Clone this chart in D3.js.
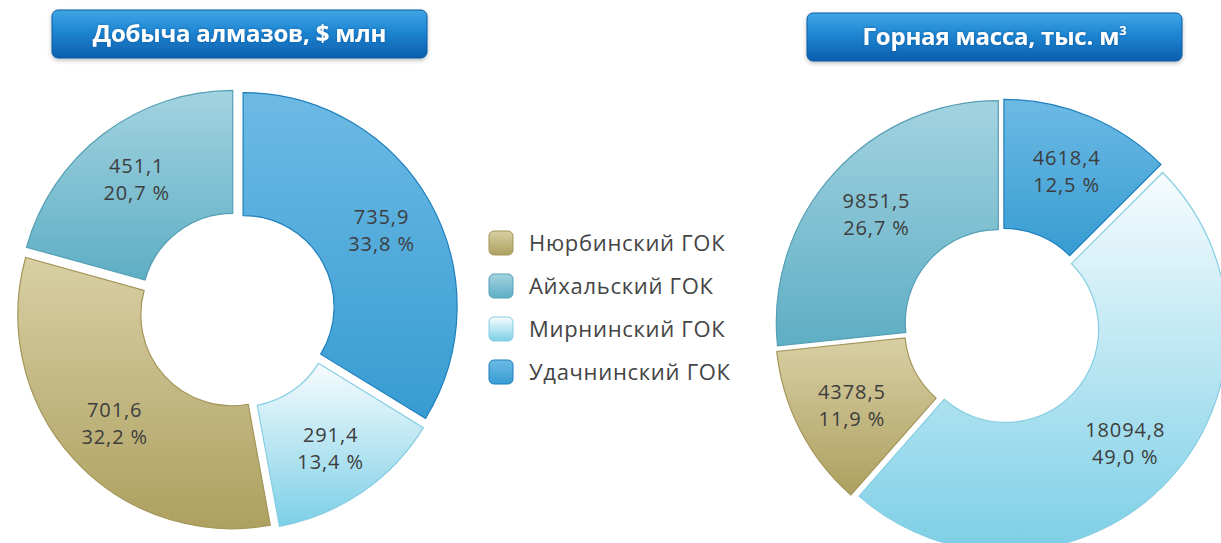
<!DOCTYPE html>
<html>
<head>
<meta charset="utf-8">
<script src="https://cdn.jsdelivr.net/npm/d3@7"></script>
<style>
  body { margin: 0; background: #fff; }
  svg { display: block; }
</style>
</head>
<body>
<div id="chart"></div>
<script>
// data
const mines = ['Нюрбинский ГОК', 'Айхальский ГОК', 'Мирнинский ГОК', 'Удачнинский ГОК'];
const diamondValues = [701.6, 451.1, 291.4, 735.9];
const diamondShares = [32.2, 20.7, 13.4, 33.8];
const rockValues = [4378.5, 9851.5, 18094.8, 4618.4];
const rockShares = [11.9, 26.7, 49.0, 12.5];
// clockwise order from 12 o'clock
const pieOrder = [3, 2, 0, 1];
const titles = ['Добыча алмазов, $ млн', 'Горная масса, тыс. м'];

const width = 1221;
const height = 543;

const palette = [
    {top: '#d8cfa4', bottom: '#ada060', stroke: '#a39558'},
    {top: '#a3d3e0', bottom: '#5eaec4', stroke: '#559fb5'},
    {top: '#f7fcfe', bottom: '#7ccfe6', stroke: '#86cde3'},
    {top: '#6dbae4', bottom: '#379cd2', stroke: '#1e7fbd'}
];

const ru = d3.formatLocale({decimal: ',', thousands: '', grouping: [3], currency: ['', '']});
const fmt1 = ru.format('.1f');

let svg = d3.select('#chart').append('svg')
            .attr('width', width)
            .attr('height', height);

let defs = svg.append('defs');

palette.forEach(function(c, i){
    let g = defs.append('linearGradient')
                .attr('id', 'grad' + i)
                .attr('x1', 0).attr('y1', 0)
                .attr('x2', 0).attr('y2', 1);
    g.append('stop').attr('offset', '0%').attr('stop-color', c.top);
    g.append('stop').attr('offset', '100%').attr('stop-color', c.bottom);
});

let tg = defs.append('linearGradient')
             .attr('id', 'titleGrad')
             .attr('x1', 0).attr('y1', 0)
             .attr('x2', 0).attr('y2', 1);
tg.append('stop').attr('offset', '0%').attr('stop-color', '#3fa6e4');
tg.append('stop').attr('offset', '45%').attr('stop-color', '#1f86d2');
tg.append('stop').attr('offset', '100%').attr('stop-color', '#0b5ead');

let shadow = defs.append('filter').attr('id', 'boxShadow')
                 .attr('x', '-5%').attr('y', '-20%')
                 .attr('width', '110%').attr('height', '150%');
shadow.append('feDropShadow')
      .attr('dx', 0).attr('dy', 2)
      .attr('stdDeviation', 2)
      .attr('flood-color', '#000')
      .attr('flood-opacity', 0.25);

let glow = defs.append('filter').attr('id', 'textGlow')
               .attr('x', '-10%').attr('y', '-30%')
               .attr('width', '120%').attr('height', '160%');
glow.append('feGaussianBlur').attr('in', 'SourceAlpha').attr('stdDeviation', 1.6).attr('result', 'b');
glow.append('feFlood').attr('flood-color', '#0a4f93').attr('flood-opacity', 0.6);
glow.append('feComposite').attr('in2', 'b').attr('operator', 'in').attr('result', 's');
let gm = glow.append('feMerge');
gm.append('feMergeNode').attr('in', 's');
gm.append('feMergeNode').attr('in', 'SourceGraphic');

function drawTitle(x, y, w, h, text, sup){
    let g = svg.append('g').attr('transform', 'translate(' + x + ',' + y + ')');
    g.append('rect')
     .attr('width', w)
     .attr('height', h)
     .attr('rx', 6)
     .attr('fill', 'url(#titleGrad)')
     .attr('stroke', '#0d5aa3')
     .attr('stroke-width', 1)
     .attr('filter', 'url(#boxShadow)');
    let t = g.append('text')
             .attr('x', w / 2)
             .attr('y', h / 2 + 8)
             .attr('text-anchor', 'middle')
             .attr('fill', '#fff')
             .attr('font-family', 'Open Sans, sans-serif')
             .attr('font-weight', 700)
             .attr('font-size', 24)
             .attr('letter-spacing', -0.2)
             .attr('filter', 'url(#textGlow)')
             .text(text);
    if (sup) {
        t.append('tspan')
         .attr('dy', -10)
         .attr('font-size', 13)
         .text(sup);
    }
}

function drawDonut(cx, cy, inner, outer, explode, values, shares){
    let rows = pieOrder.map(function(i){
        return {mine: i, value: values[i], share: shares[i]};
    });

    let pie = d3.pie()
                .sort(null)
                .value(function(d){return d.value;});

    let arc = d3.arc()
                .innerRadius(inner)
                .outerRadius(outer);

    let labelArc = d3.arc()
                     .innerRadius(inner + (outer - inner) * 0.55)
                     .outerRadius(inner + (outer - inner) * 0.55);

    let g = svg.append('g').attr('transform', 'translate(' + cx + ',' + cy + ')');

    let slices = g.selectAll('g.slice')
                  .data(pie(rows))
                  .enter()
                  .append('g')
                  .attr('class', 'slice')
                  .attr('transform', function(d){
                      let a = (d.startAngle + d.endAngle) / 2;
                      return 'translate(' + (Math.sin(a) * explode) + ',' + (-Math.cos(a) * explode) + ')';
                  });

    slices.append('path')
          .attr('d', arc)
          .attr('fill', function(d){return 'url(#grad' + d.data.mine + ')';})
          .attr('stroke', function(d){return palette[d.data.mine].stroke;})
          .attr('stroke-width', 1.2);

    let labels = slices.append('text')
                       .attr('transform', function(d){
                           let p = labelArc.centroid(d);
                           return 'translate(' + p[0] + ',' + p[1] + ')';
                       })
                       .attr('text-anchor', 'middle')
                       .attr('fill', '#3d3d3d')
                       .attr('font-family', 'Open Sans, sans-serif')
                       .attr('font-size', 20)
                       .attr('letter-spacing', 0.9);

    labels.append('tspan')
          .attr('x', 0)
          .attr('dy', -5)
          .text(function(d){return fmt1(d.data.value);});
    labels.append('tspan')
          .attr('x', 0)
          .attr('dy', 27)
          .text(function(d){return fmt1(d.data.share) + ' %';});
}

function drawLegend(x, y, step){
    let items = svg.selectAll('g.legend')
                   .data(mines)
                   .enter()
                   .append('g')
                   .attr('class', 'legend')
                   .attr('transform', function(d, i){return 'translate(' + x + ',' + (y + i * step) + ')';});

    items.append('rect')
         .attr('x', 0)
         .attr('y', -12)
         .attr('width', 24)
         .attr('height', 24)
         .attr('rx', 5)
         .attr('fill', function(d, i){return 'url(#grad' + i + ')';})
         .attr('stroke', function(d, i){return palette[i].stroke;})
         .attr('stroke-width', 1);

    items.append('text')
         .attr('x', 40)
         .attr('y', 8)
         .attr('fill', '#444')
         .attr('font-family', 'Open Sans, sans-serif')
         .attr('font-size', 22)
         .attr('letter-spacing', 0.7)
         .text(function(d){return d;});
}

drawTitle(52, 10, 375, 48, titles[0]);
drawTitle(807, 13, 375, 48, titles[1], '3');

drawDonut(237, 310, 91, 214, 7, diamondValues, diamondShares);
drawDonut(1002, 326, 93, 222, 5, rockValues, rockShares);

drawLegend(489, 243, 43);
</script>
</body>
</html>
